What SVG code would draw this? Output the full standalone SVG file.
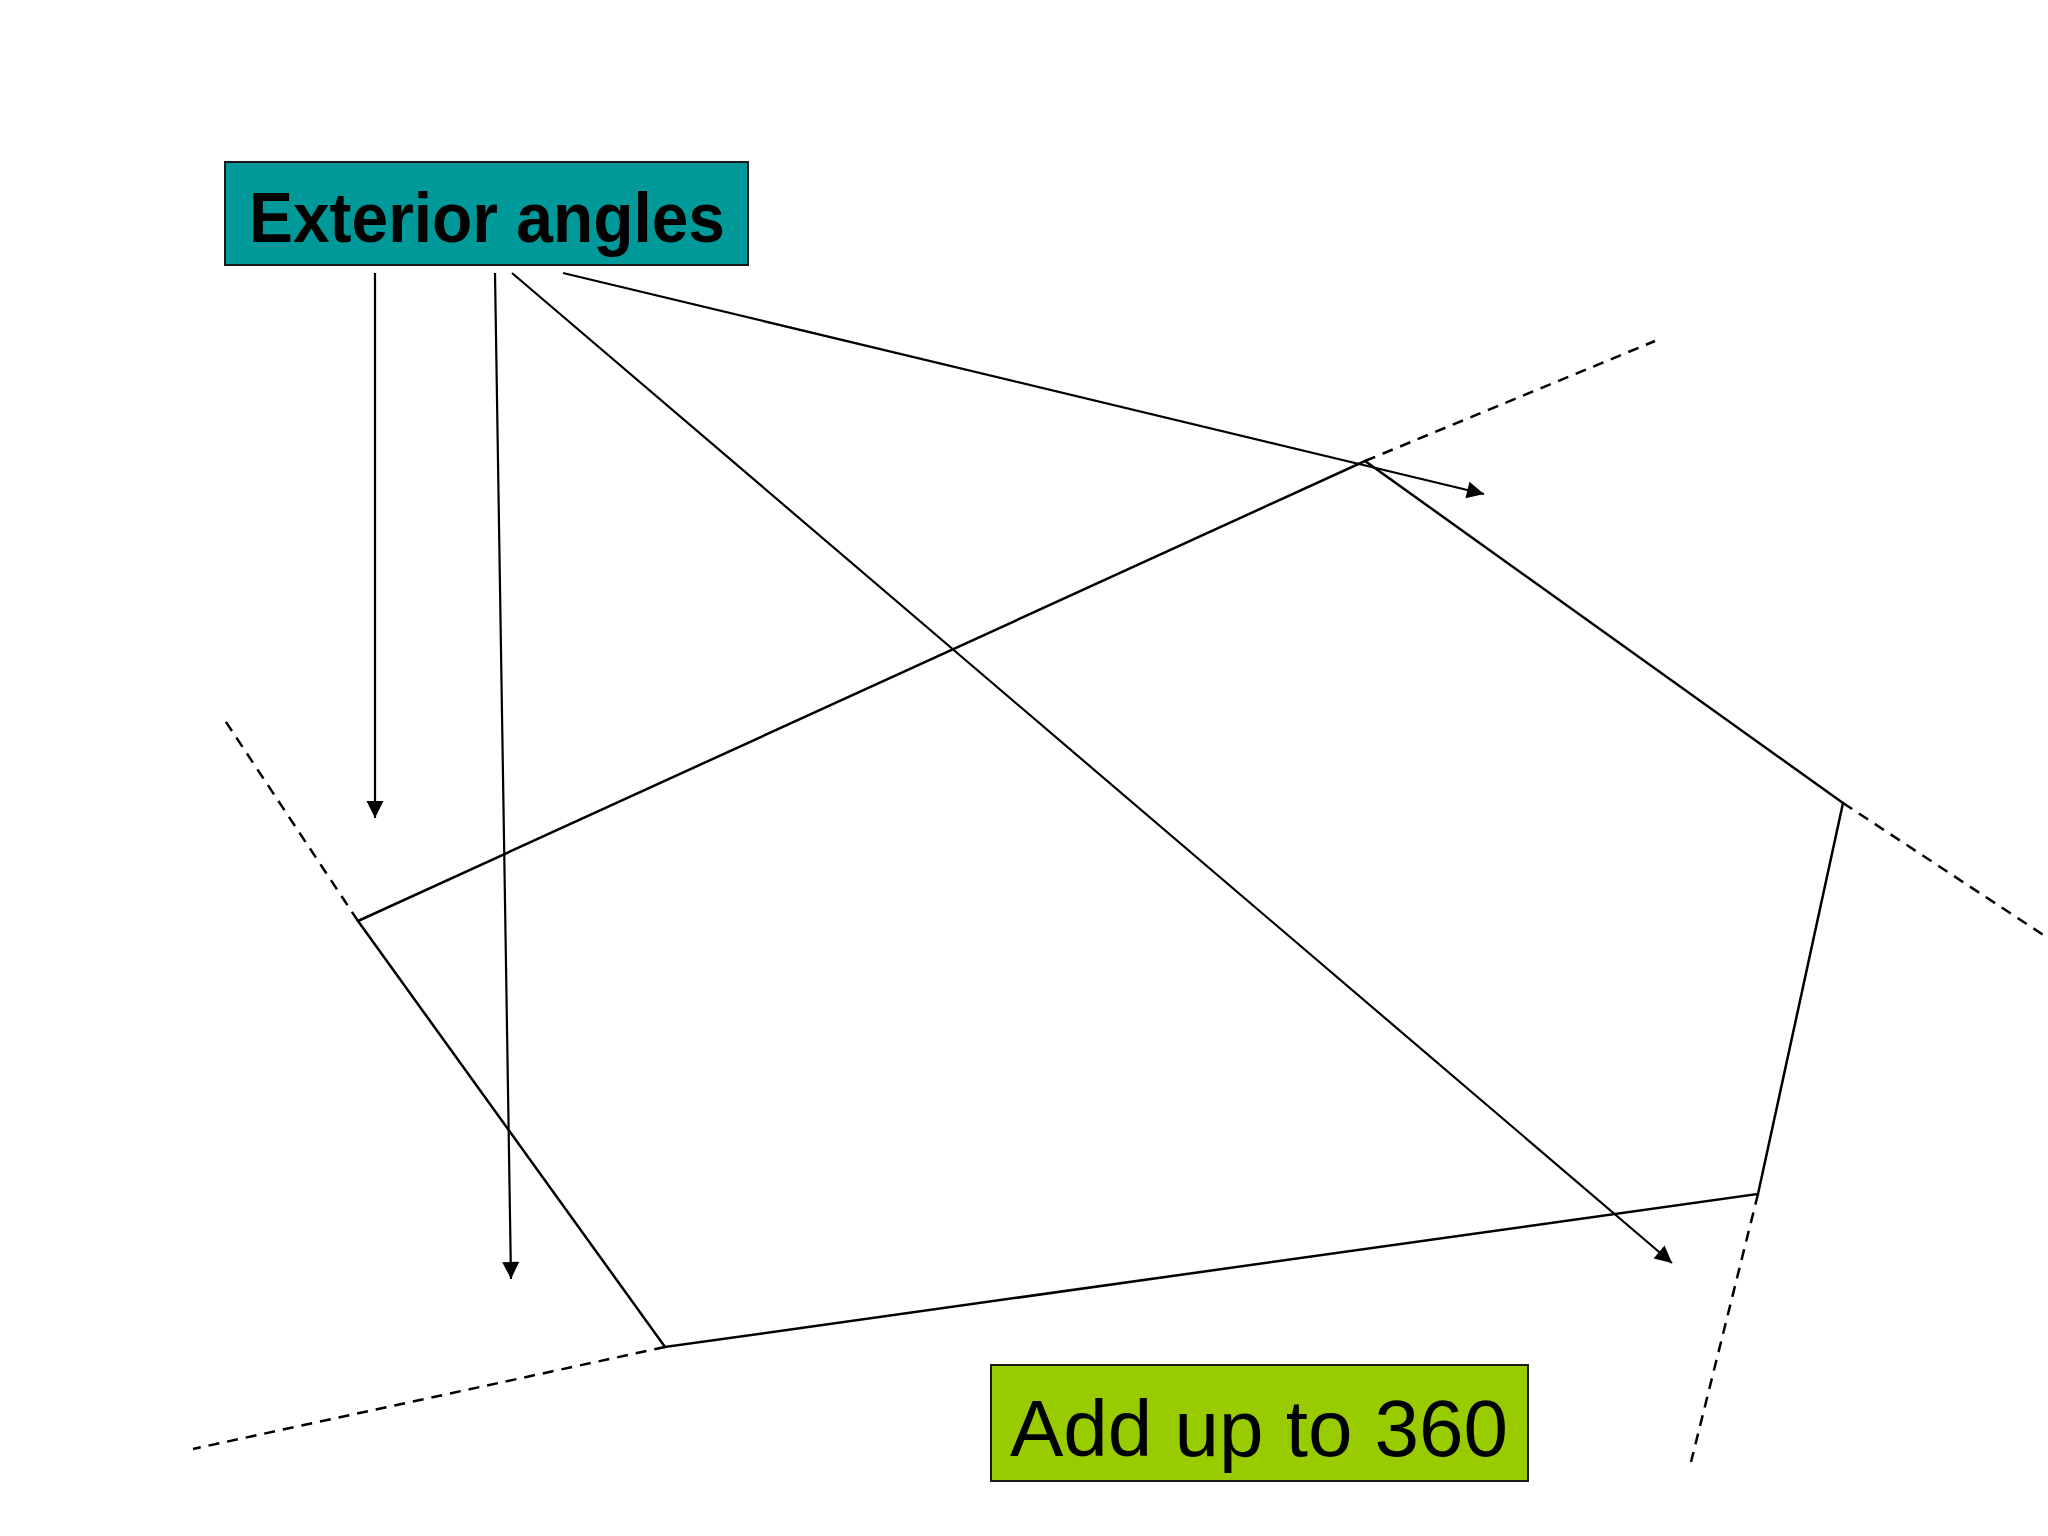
<svg xmlns="http://www.w3.org/2000/svg" width="2048" height="1536" viewBox="0 0 2048 1536">
<style>
.edge{stroke:#000;stroke-width:2.5;fill:none;stroke-linecap:round}
.ext{stroke:#000;stroke-width:2.5;fill:none;stroke-dasharray:11 8}
.arrow{stroke:#000;stroke-width:2.2;fill:none;marker-end:url(#ah)}
.box{stroke:#1a1a1a;stroke-width:2}
</style>
<defs>
<marker id="ah" markerUnits="userSpaceOnUse" markerWidth="20" markerHeight="20" viewBox="0 0 20 20" refX="18" refY="10" orient="auto">
<path d="M1,1.5 L18,10 L1,18.5 Z" fill="#000"/>
</marker>
</defs>
<rect width="2048" height="1536" fill="#fff"/>
<g id="pentagon">
<polyline class="edge" points="358,921 1365,461 1843,803 1758,1194 665,1347 358,921"/>
</g>
<g id="extensions">
<line class="ext" x1="358" y1="921" x2="222" y2="716"/>
<line class="ext" x1="1365" y1="461" x2="1655" y2="341"/>
<line class="ext" x1="1843" y1="803" x2="2048" y2="938"/>
<line class="ext" x1="1758" y1="1194" x2="1691" y2="1462"/>
<line class="ext" x1="665" y1="1347" x2="193" y2="1449"/>
</g>
<g id="connectors">
<line class="arrow" x1="375" y1="273" x2="375" y2="818"/>
<line class="arrow" x1="495" y1="273" x2="511" y2="1279"/>
<line class="arrow" x1="512" y1="273" x2="1672" y2="1263"/>
<line class="arrow" x1="563" y1="273" x2="1484" y2="494"/>
</g>
<g id="exterior-angles">
<rect class="box" x="225" y="162" width="523" height="103" fill="#009999"/>
<text x="487" y="242" text-anchor="middle" font-family="'Liberation Sans', Arial, sans-serif" font-weight="bold" font-size="71" textLength="476" lengthAdjust="spacingAndGlyphs" fill="#000">Exterior angles</text>
</g>
<g id="add-up">
<rect class="box" x="991" y="1365" width="537" height="116" fill="#99CC00"/>
<text x="1259" y="1456" text-anchor="middle" font-family="'Liberation Sans', Arial, sans-serif" font-size="80" fill="#000">Add up to 360</text>
</g>
</svg>
